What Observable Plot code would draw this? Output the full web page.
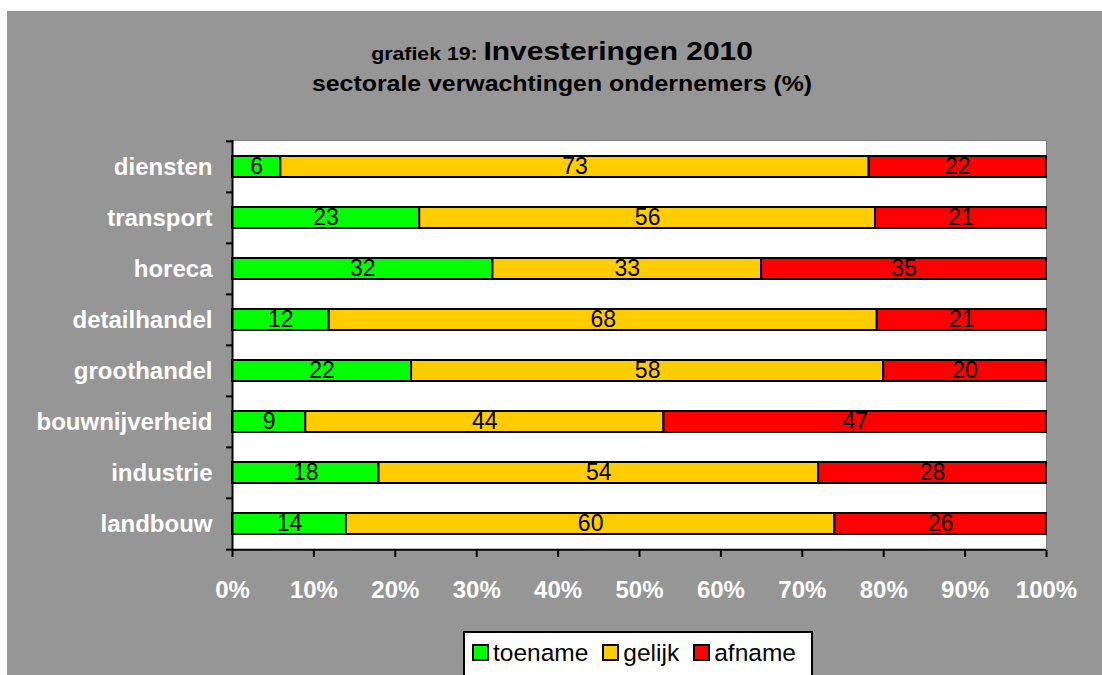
<!DOCTYPE html>
<html>
<head>
<meta charset="utf-8">
<script src="https://cdn.jsdelivr.net/npm/d3@7"></script>
<script src="https://cdn.jsdelivr.net/npm/@observablehq/plot@0.6"></script>
<style>
  html, body { margin: 0; padding: 0; background: #ffffff; width: 1102px; height: 675px; overflow: hidden; }
  body { position: relative; font-family: "Liberation Sans", Arial, Helvetica, sans-serif; }
  #bg { position: absolute; left: 7px; top: 11px; width: 1095px; height: 664px; background: #969696; }
  .title { position: absolute; left: 0; width: 1124px; text-align: center; font-weight: bold; color: #000; white-space: nowrap; transform-origin: 562px 0; }
  #t1 { top: 36px; line-height: 30px; font-size: 26px; transform: scaleX(1.15); }
  #t1 .small { font-size: 18.5px; }
  #t2 { top: 69px; line-height: 30px; font-size: 22px; transform: scaleX(1.13); }
  #chart { position: absolute; left: 0; top: 120px; }
  #legend { position: absolute; left: 463px; top: 631px; width: 350px; height: 46px; box-sizing: border-box; border: 2px solid #000; background: #fff; display: flex; align-items: center; padding-left: 7px; padding-bottom: 3px; font-size: 24.5px; color: #000; }
  .item { display: flex; align-items: center; margin-right: 14px; }
  .sw { width: 17px; height: 17px; box-sizing: border-box; border: 2px solid #000; margin-right: 4px; }
</style>
</head>
<body>
<div id="bg"></div>
<div id="t1" class="title"><span class="small">grafiek 19: </span>Investeringen 2010</div>
<div id="t2" class="title">sectorale verwachtingen ondernemers (%)</div>
<div id="chart"></div>
<div id="legend"></div>
<script>
const sectors = ["diensten", "transport", "horeca", "detailhandel", "groothandel", "bouwnijverheid", "industrie", "landbouw"];
const seriesNames = ["toename", "gelijk", "afname"];
const seriesColors = ["#00ff00", "#ffcc00", "#ff0000"];
const toename = [6, 23, 32, 12, 22, 9, 18, 14];
const gelijk  = [73, 56, 33, 68, 58, 44, 54, 60];
const afname  = [22, 21, 35, 21, 20, 47, 28, 26];
const xTicks = [0, 0.1, 0.2, 0.3, 0.4, 0.5, 0.6, 0.7, 0.8, 0.9, 1];

const seriesValues = [toename, gelijk, afname];
const data = [];
sectors.forEach((s, i) => {
  seriesNames.forEach((n, j) => {
    data.push({sector: s, series: n, value: seriesValues[j][i]});
  });
});

const W = 1102, H = 480;
const mT = 20, mB = 50, mL = 232, mR = 56;
const step = (H - mT - mB) / sectors.length;
const inset = 15;

const stackOpts = {x: "value", y: "sector", offset: "normalize", order: null};

const chart = Plot.plot({
  width: W,
  height: H,
  marginTop: mT,
  marginBottom: mB,
  marginLeft: mL,
  marginRight: mR,
  style: {background: "transparent", fontFamily: "'Liberation Sans', Arial, Helvetica, sans-serif", overflow: "visible"},
  x: {domain: [0, 1], axis: null},
  y: {domain: sectors, padding: 0, axis: null},
  color: {domain: seriesNames, range: seriesColors},
  marks: [
    Plot.frame({fill: "#ffffff", stroke: "#7f7f7f", strokeWidth: 1}),
    Plot.barX(data, Plot.stackX({...stackOpts, fill: "series", stroke: "#000", strokeWidth: 2, insetTop: inset, insetBottom: inset})),
    Plot.text(data, Plot.stackX({...stackOpts, text: d => String(d.value), fill: "#000", fontSize: 23, dy: 0})),
    Plot.ruleX([0], {stroke: "#000", strokeWidth: 2}),
    Plot.ruleY([sectors[sectors.length - 1]], {y: d => d, dy: step / 2, stroke: "#000", strokeWidth: 2}),
    Plot.axisX({ticks: xTicks, tickFormat: d3.format(".0%"), tickSize: 7, tickPadding: 23, stroke: "#000", strokeWidth: 2, fill: "#ffffff", fontWeight: "bold", fontSize: 24, label: null}),
    Plot.axisY({tickSize: 6, text: null, dy: -step / 2, stroke: "#000", strokeWidth: 2, label: null}),
    Plot.axisY({ticks: [sectors[sectors.length - 1]], tickSize: 6, text: null, dy: step / 2, stroke: "#000", strokeWidth: 2, label: null}),
    Plot.axisY({tickSize: 0, tickPadding: 20, fill: "#ffffff", fontWeight: "bold", fontSize: 24, label: null})
  ]
});
document.getElementById("chart").appendChild(chart);

const legend = document.getElementById("legend");
seriesNames.forEach((n, j) => {
  const item = document.createElement("div");
  item.className = "item";
  const sw = document.createElement("div");
  sw.className = "sw";
  sw.style.background = seriesColors[j];
  const lab = document.createElement("span");
  lab.textContent = n;
  item.appendChild(sw);
  item.appendChild(lab);
  legend.appendChild(item);
});
</script>
</body>
</html>
